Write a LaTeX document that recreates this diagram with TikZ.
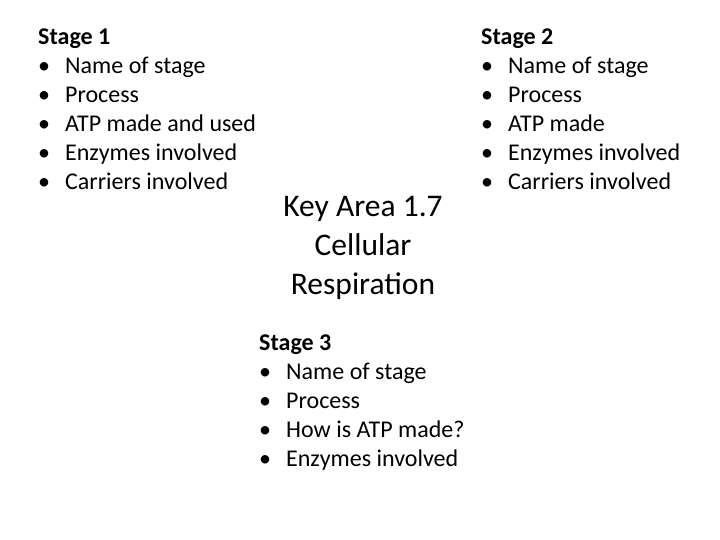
\documentclass[tikz,border=0pt]{standalone}
\usepackage{fontspec}
\setmainfont{Carlito}
\begin{document}
\begin{tikzpicture}[x=1pt,y=1pt,
  blk/.style={anchor=north west,align=left,inner sep=0pt,font=\fontsize{24}{29}\selectfont},
  ttl/.style={anchor=north,align=center,inner sep=0pt,font=\fontsize{31.5}{39}\selectfont}]
\newcommand{\bl}{\makebox[27pt][l]{•}}
\useasboundingbox (0,0) rectangle (720,-540);
\node[blk] (s1) at (38,-29) {\textbf{Stage 1}\\\bl Name of stage\\\bl Process\\\bl ATP made and used\\\bl Enzymes involved\\\bl Carriers involved};
\node[blk] (s2) at (481,-29) {\textbf{Stage 2}\\\bl Name of stage\\\bl Process\\\bl ATP made\\\bl Enzymes involved\\\bl Carriers involved};
\node[ttl] (t) at (363,-196) {Key Area 1.7\\Cellular\\Respiration};
\node[blk] (s3) at (259,-335) {\textbf{Stage 3}\\\bl Name of stage\\\bl Process\\\bl How is ATP made?\\\bl Enzymes involved};
\end{tikzpicture}
\end{document}
